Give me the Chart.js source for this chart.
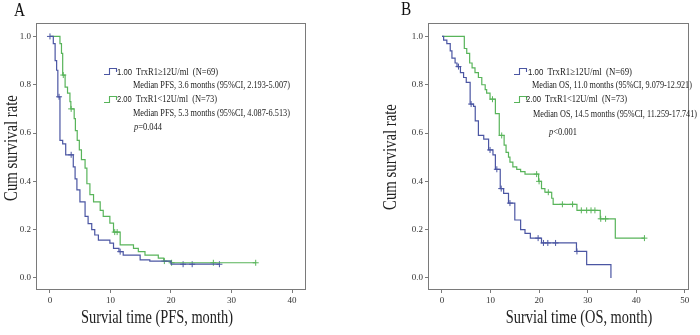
<!DOCTYPE html>
<html><head><meta charset="utf-8">
<script src="https://cdn.jsdelivr.net/npm/chart.js@4.4.1/dist/chart.umd.min.js"></script>
<style>
html,body{margin:0;padding:0;background:#fff;}
body{width:700px;height:335px;overflow:hidden;position:relative;font-family:"Liberation Serif","Times New Roman",serif;color:#222;}
canvas{position:absolute;top:0;}
.t{position:absolute;white-space:pre;font-size:10px;line-height:12px;transform-origin:0 50%;color:#222;}
.s{font-family:"Liberation Sans",Arial,sans-serif;font-size:9px;}
.lab{position:absolute;font-size:18px;line-height:18px;color:#111;transform:scaleX(0.85);transform-origin:0 0;}
svg{position:absolute;overflow:visible;}
</style></head><body>
<canvas id="ca" width="350" height="335" style="left:0"></canvas>
<canvas id="cb" width="350" height="335" style="left:350px"></canvas>
<div class="lab" style="left:14px;top:1px">A</div>
<div class="lab" style="left:401px;top:0px">B</div>
<script>
// ---------------- DATA ----------------
const xTicksPFS = [0, 10, 20, 30, 40];
const xTicksOS = [0, 10, 20, 30, 40, 50];
const yTicks = [0.0, 0.2, 0.4, 0.6, 0.8, 1.0];

// Panel A: PFS, group 1 (TrxR1 >= 12U/ml)
const pfsTime1 = [0, 0.55, 0.85, 1.1, 1.3, 1.65, 2.1, 2.6, 3.85, 4.15, 4.45, 4.95, 5.8, 6.3, 6.9, 7.4, 8.0, 9.9, 10.5, 11.4, 12.1, 14.9, 16.5, 20.0, 28.0];
const pfsSurv1 = [1.0, 0.97, 0.90, 0.86, 0.75, 0.57, 0.555, 0.51, 0.46, 0.41, 0.365, 0.315, 0.255, 0.225, 0.20, 0.178, 0.157, 0.144, 0.123, 0.109, 0.095, 0.075, 0.07, 0.057, 0.057];
const pfsCensT1 = [0, 1.5, 3.5, 11.6, 22.0, 23.5, 28.0];
const pfsCensS1 = [1.0, 0.75, 0.51, 0.109, 0.057, 0.057, 0.057];
// Panel A: PFS, group 2 (TrxR1 < 12U/ml)
const pfsTime2 = [0, 1.65, 1.9, 2.1, 2.5, 2.9, 3.3, 3.45, 4.0, 4.2, 4.5, 4.85, 5.2, 5.8, 6.1, 6.6, 7.2, 8.3, 8.8, 9.9, 10.5, 11.6, 13.8, 14.6, 15.7, 17.9, 18.8, 20.0, 34.0];
const pfsSurv2 = [1.0, 0.97, 0.93, 0.84, 0.79, 0.765, 0.73, 0.70, 0.66, 0.61, 0.57, 0.53, 0.49, 0.455, 0.39, 0.345, 0.315, 0.28, 0.255, 0.227, 0.19, 0.137, 0.123, 0.109, 0.095, 0.082, 0.07, 0.063, 0.063];
const pfsCensT2 = [2.2, 3.5, 10.7, 11.1, 18.9, 20.1, 27.0, 34.0];
const pfsCensS2 = [0.84, 0.70, 0.19, 0.19, 0.07, 0.063, 0.063, 0.063];

// Panel B: OS, group 1
const osTime1 = [0, 0.34, 1.0, 1.7, 2.05, 2.7, 3.1, 3.8, 4.45, 5.0, 5.8, 6.5, 6.85, 7.5, 8.6, 9.6, 10.5, 11.0, 12.0, 12.7, 13.7, 15.0, 16.2, 17.1, 18.2, 20.5, 27.7, 29.8, 34.8];
const osSurv1 = [1.0, 0.985, 0.97, 0.94, 0.91, 0.89, 0.875, 0.85, 0.83, 0.81, 0.72, 0.71, 0.65, 0.59, 0.575, 0.53, 0.51, 0.45, 0.37, 0.35, 0.31, 0.24, 0.20, 0.185, 0.165, 0.145, 0.11, 0.055, 0.0];
const osCensT1 = [3.4, 6.0, 9.9, 11.3, 12.2, 14.0, 19.8, 20.9, 21.8, 23.4, 27.8];
const osCensS1 = [0.875, 0.72, 0.53, 0.45, 0.37, 0.31, 0.165, 0.145, 0.145, 0.145, 0.11];
// Panel B: OS, group 2
const osTime2 = [0, 4.6, 5.1, 5.7, 6.2, 6.8, 7.5, 8.2, 8.9, 9.2, 9.9, 11.0, 11.8, 12.8, 13.2, 13.7, 14.0, 14.6, 15.4, 16.2, 17.1, 19.9, 20.5, 21.2, 22.6, 22.9, 27.8, 32.6, 35.7, 41.7];
const osSurv2 = [1.0, 0.95, 0.93, 0.89, 0.87, 0.85, 0.83, 0.80, 0.78, 0.765, 0.74, 0.68, 0.59, 0.55, 0.52, 0.50, 0.48, 0.46, 0.45, 0.44, 0.43, 0.40, 0.37, 0.355, 0.33, 0.305, 0.28, 0.245, 0.165, 0.165];
const osCensT2 = [10.4, 12.3, 19.5, 20.0, 21.9, 24.8, 26.9, 28.7, 29.8, 30.7, 31.5, 32.7, 33.7, 41.7];
const osCensS2 = [0.74, 0.59, 0.43, 0.40, 0.355, 0.305, 0.305, 0.28, 0.28, 0.28, 0.28, 0.245, 0.245, 0.165];

// ---------------- STYLE ----------------
const BLUE = '#4b56a3';
const GREEN = '#58b45a';
const AXIS = '#7a7a7a';
const TXT = '#333';

const pts = (t, s) => t.map((v, i) => ({x: v, y: s[i]}));

const frame = {
  id: 'frame',
  beforeDatasetsDraw(chart) {
    const {ctx, chartArea: a} = chart;
    ctx.save();
    ctx.strokeStyle = AXIS; ctx.lineWidth = 1;
    ctx.strokeRect(Math.round(a.left) + 0.5, Math.round(a.top) + 0.5, Math.round(a.right - a.left) - 1, Math.round(a.bottom - a.top) - 1);
    ctx.restore();
  },
  afterDraw(chart, args, o) {
    const ctx = chart.ctx;
    ctx.save();
    ctx.fillStyle = '#222';
    ctx.font = '18px "Liberation Serif", serif';
    ctx.textAlign = 'center'; ctx.textBaseline = 'middle';
    ctx.save(); ctx.translate(o.xt[0], o.xt[1]); ctx.scale(o.sx, 1); ctx.fillText(o.xText, 0, 0); ctx.restore();
    ctx.save(); ctx.translate(o.yt[0], o.yt[1]); ctx.rotate(-Math.PI / 2); ctx.scale(o.sy, 1); ctx.fillText(o.yText, 0, 0); ctx.restore();
    ctx.restore();
  }
};

function makeChart(id, cfg) {
  const tickFont = {family: '"Liberation Serif", serif', size: 9};
  return new Chart(document.getElementById(id), {
    type: 'line',
    data: {
      datasets: [
        {data: pts(cfg.t1, cfg.s1), borderColor: BLUE, borderWidth: 1.2, stepped: 'before', pointRadius: 0, fill: false},
        {data: pts(cfg.t2, cfg.s2), borderColor: GREEN, borderWidth: 1.2, stepped: 'before', pointRadius: 0, fill: false},
        {data: pts(cfg.ct1, cfg.cs1), showLine: false, pointStyle: 'cross', pointRadius: 3, pointBorderWidth: 1, borderColor: BLUE, pointBorderColor: BLUE},
        {data: pts(cfg.ct2, cfg.cs2), showLine: false, pointStyle: 'cross', pointRadius: 3, pointBorderWidth: 1, borderColor: GREEN, pointBorderColor: GREEN}
      ]
    },
    options: {
      responsive: false, animation: false, events: [],
      layout: {padding: {left: 0, top: 23, right: cfg.padRight, bottom: 0}},
      plugins: {legend: {display: false}, tooltip: {enabled: false}, title: {display: false},
        frame: {xText: cfg.xText, yText: 'Cum survival rate', xt: cfg.xt, yt: cfg.yt, sx: 0.8, sy: 0.82}},
      scales: {
        x: {type: 'linear', min: cfg.xmin, max: cfg.xmax,
          afterFit: s => { s.height = 45; },
          afterBuildTicks: s => { s.ticks = cfg.xTicks.map(v => ({value: v})); },
          ticks: {font: tickFont, color: TXT, maxRotation: 0, autoSkip: false, padding: 2},
          grid: {drawOnChartArea: false, drawTicks: true, tickLength: 3, color: AXIS},
          border: {display: false}},
        y: {type: 'linear', min: -0.0497, max: 1.0555,
          afterFit: s => { s.width = cfg.yWidth; },
          afterBuildTicks: s => { s.ticks = yTicks.map(v => ({value: v})); },
          ticks: {font: tickFont, color: TXT, padding: 2, callback: v => Number(v).toFixed(1)},
          grid: {drawOnChartArea: false, drawTicks: true, tickLength: 3, color: AXIS},
          border: {display: false}}
      }
    },
    plugins: [frame]
  });
}

makeChart('ca', {t1: pfsTime1, s1: pfsSurv1, t2: pfsTime2, s2: pfsSurv2, ct1: pfsCensT1, cs1: pfsCensS1, ct2: pfsCensT2, cs2: pfsCensS2,
  xmin: -2.31, xmax: 42.31, xTicks: xTicksPFS, padRight: 44, yWidth: 36,
  xText: 'Survial time (PFS, month)', xt: [157, 318], yt: [12, 148]});
makeChart('cb', {t1: osTime1, s1: osSurv1, t2: osTime2, s2: osSurv2, ct1: osCensT1, cs1: osCensS1, ct2: osCensT2, cs2: osCensS2,
  xmin: -2.88, xmax: 50.88, xTicks: xTicksOS, padRight: 11, yWidth: 78,
  xText: 'Survial time (OS, month)', xt: [229, 318], yt: [41, 157]});

// ---------------- LEGEND TEXT ----------------
function line(html, left, cy, width) {
  const d = document.createElement('div');
  d.className = 't'; d.innerHTML = html;
  document.body.appendChild(d);
  const w = d.getBoundingClientRect().width;
  d.style.left = left + 'px';
  d.style.top = (cy - 6) + 'px';
  d.style.transform = 'scaleX(' + (width / w).toFixed(3) + ')';
}
function icon(left, cy, color) {
  const ns = 'http://www.w3.org/2000/svg';
  const s = document.createElementNS(ns, 'svg');
  s.setAttribute('width', '13'); s.setAttribute('height', '8');
  s.style.left = left + 'px'; s.style.top = (cy - 4) + 'px';
  const p = document.createElementNS(ns, 'path');
  p.setAttribute('d', 'M0,7.5 H5.5 V1.5 H12.5 V5');
  p.setAttribute('fill', 'none'); p.setAttribute('stroke', color); p.setAttribute('stroke-width', '1.1');
  s.appendChild(p); document.body.appendChild(s);
}
// Panel A legend
icon(104, 71, BLUE);
line('<span class="s">1.00</span>  TrxR1\u226512U/ml  (N=69)', 117, 71.5, 101);
line('Median PFS, 3.6 months (95%CI, 2.193-5.007)', 133, 84.5, 157);
icon(104, 98.5, GREEN);
line('<span class="s">2.00</span>  TrxR1&lt;12U/ml  (N=73)', 117, 99, 100);
line('Median PFS, 5.3 months (95%CI, 4.087-6.513)', 133, 112.5, 157);
line('<i>p</i>=0.044', 134, 126.5, 28);
// Panel B legend
icon(514, 71, BLUE);
line('<span class="s">1.00</span>  TrxR1\u226512U/ml  (N=69)', 528, 71.5, 104);
line('Median OS, 11.0 months (95%CI, 9.079-12.921)', 532, 85, 160);
icon(514, 98.5, GREEN);
line('<span class="s">2.00</span>  TrxR1&lt;12U/ml  (N=73)', 526, 99, 101);
line('Median OS, 14.5 months (95%CI, 11.259-17.741)', 533, 114, 164);
line('<i>p</i>&lt;0.001', 549, 132, 28);
</script>
</body></html>
